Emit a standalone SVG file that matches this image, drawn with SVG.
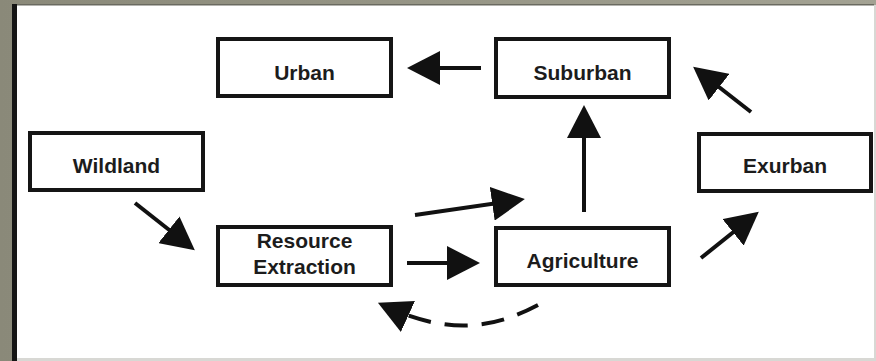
<svg xmlns="http://www.w3.org/2000/svg" width="876" height="361" viewBox="0 0 876 361">
  <defs>
    <linearGradient id="bg" x1="0" y1="0" x2="1" y2="0">
      <stop offset="0" stop-color="#8a8979"/>
      <stop offset="1" stop-color="#a3a293"/>
    </linearGradient>
    <marker id="ah" markerUnits="userSpaceOnUse" viewBox="0 0 33 34" markerWidth="33" markerHeight="34" refX="23" refY="17" orient="auto">
      <path d="M0,0 L33,17 L0,34 z" fill="#111"/>
    </marker>
    <style>
      .box { fill: #fff; stroke: #151515; stroke-width: 4; }
      .lbl { font-family: "Liberation Sans", Arial, sans-serif; font-weight: bold; font-size: 21px; fill: #1c1c1c; text-anchor: middle; }
      .conn { fill: none; stroke: #111; stroke-width: 4; marker-end: url(#ah); }
      .dash { stroke-dasharray: 23 14; }
    </style>
  </defs>

  <!-- frame -->
  <rect x="0" y="0" width="876" height="361" fill="url(#bg)"/>
  <rect x="17" y="5" width="857" height="353" fill="#ffffff"/>
  <rect x="12" y="4" width="5" height="357" fill="#151515"/>
  <rect x="17" y="4" width="857" height="1.5" fill="#6a6a60"/>
  <rect x="17" y="358" width="859" height="3" fill="#d8d8d4"/>
  <rect x="874" y="5" width="2" height="353" fill="#d8d8d4"/>

  <g id="urban">
    <rect class="box" x="218" y="39" width="173" height="57"/>
    <text class="lbl" x="304.5" y="80">Urban</text>
  </g>
  <g id="suburban">
    <rect class="box" x="496" y="39" width="173" height="58"/>
    <text class="lbl" x="582.5" y="80">Suburban</text>
  </g>
  <g id="wildland">
    <rect class="box" x="30" y="133" width="173" height="57"/>
    <text class="lbl" x="116.5" y="173">Wildland</text>
  </g>
  <g id="exurban">
    <rect class="box" x="699" y="134" width="172" height="57"/>
    <text class="lbl" x="785" y="173">Exurban</text>
  </g>
  <g id="resource-extraction">
    <rect class="box" x="218" y="227" width="173" height="58"/>
    <text class="lbl" x="304.5" y="248">Resource</text>
    <text class="lbl" x="304.5" y="274">Extraction</text>
  </g>
  <g id="agriculture">
    <rect class="box" x="496" y="228" width="173" height="57"/>
    <text class="lbl" x="582.5" y="268">Agriculture</text>
  </g>

  <g id="connectors">
    <path class="conn" d="M481,68 L417,68"/>
    <path class="conn" d="M751,112 L701,73"/>
    <path class="conn" d="M584,212 L584,115"/>
    <path class="conn" d="M135,203 L187,244"/>
    <path class="conn" d="M407,263 L470,263"/>
    <path class="conn" d="M415,215 L515,200.5"/>
    <path class="conn" d="M701,258 L751,218"/>
    <path class="conn dash" d="M538,305 C500,325 455,338 387,307"/>
  </g>
</svg>
